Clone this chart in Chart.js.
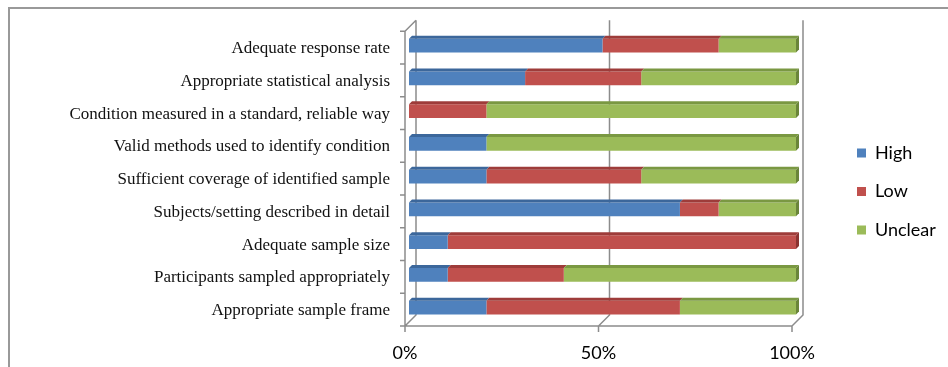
<!DOCTYPE html>
<html>
<head>
<meta charset="utf-8">
<script src="https://cdn.jsdelivr.net/npm/chart.js@4.4.1/dist/chart.umd.min.js"></script>
<style>
  html, body { margin: 0; padding: 0; background: #fff; }
  canvas { display: block; }
</style>
</head>
<body>
<canvas id="myChart" width="948" height="367"></canvas>
<script>
// data (percent of studies)
const categories = [
  'Adequate response rate',
  'Appropriate statistical analysis',
  'Condition measured in a standard, reliable way',
  'Valid methods used to identify condition',
  'Sufficient coverage of identified sample',
  'Subjects/setting described in detail',
  'Adequate sample size',
  'Participants sampled appropriately',
  'Appropriate sample frame'
];
const high    = [50, 30,  0, 20, 20, 70, 10, 10, 20];
const low     = [30, 30, 20,  0, 40, 10, 90, 30, 50];
const unclear = [20, 40, 80, 80, 40, 20,  0, 60, 30];
const xTicks  = [0, 50, 100];

const GRID = '#8c8c8c';

// outer frame (top and left edge only, like the scan)
const frame = {
  id: 'frame',
  beforeDraw(chart) {
    const ctx = chart.ctx;
    ctx.save();
    ctx.strokeStyle = '#999';
    ctx.lineWidth = 2;
    ctx.beginPath();
    ctx.moveTo(9, chart.height);
    ctx.lineTo(9, 8);
    ctx.lineTo(chart.width, 8);
    ctx.stroke();
    ctx.restore();
  }
};

// the 3D walls: back wall gridlines, floor and left wall
const walls = {
  id: 'walls',
  beforeDatasetsDraw(chart) {
    const {ctx, chartArea: a} = chart;
    const xs = chart.scales.x;
    const fx = -4, fy = 2, bx = 7, by = -9;
    ctx.save();
    ctx.strokeStyle = GRID;
    ctx.lineWidth = 1.5;
    ctx.beginPath();
    xTicks.forEach(v => {
      const px = xs.getPixelForValue(v);
      ctx.moveTo(px + bx, a.top + by);
      ctx.lineTo(px + bx, a.bottom + by);
      ctx.lineTo(px + fx, a.bottom + fy);
      ctx.lineTo(px + fx, a.bottom + fy + 6);
    });
    // floor front edge
    ctx.moveTo(xs.getPixelForValue(0) + fx, a.bottom + fy);
    ctx.lineTo(xs.getPixelForValue(100) + fx, a.bottom + fy);
    // left wall front edge + top slant
    ctx.moveTo(a.left + fx, a.bottom + fy);
    ctx.lineTo(a.left + fx, a.top + fy);
    ctx.lineTo(a.left + bx, a.top + by);
    // ticks between categories
    const step = (a.bottom - a.top) / categories.length;
    for (let k = 0; k <= categories.length; k++) {
      const y = a.top + k * step + fy;
      ctx.moveTo(a.left + fx - 5, y);
      ctx.lineTo(a.left + fx, y);
    }
    ctx.stroke();
    ctx.restore();
  }
};

// top faces and end caps of the bars
const bars3d = {
  id: 'bars3d',
  afterDatasetsDraw(chart) {
    const ctx = chart.ctx;
    const d = 3;
    ctx.save();
    for (let i = 0; i < categories.length; i++) {
      let lastEl = null, lastDs = null;
      chart.data.datasets.forEach((ds, k) => {
        if (!ds.data[i]) return;
        const el = chart.getDatasetMeta(k).data[i];
        const {x, y, base, height} = el.getProps(['x', 'y', 'base', 'height'], true);
        const t = y - height / 2;
        ctx.fillStyle = ds.topColor;
        ctx.beginPath();
        ctx.moveTo(base, t);
        ctx.lineTo(x, t);
        ctx.lineTo(x + d, t - d);
        ctx.lineTo(base + d, t - d);
        ctx.closePath();
        ctx.fill();
        lastEl = {x, t, b: y + height / 2};
        lastDs = ds;
      });
      if (lastEl) {
        ctx.fillStyle = lastDs.sideColor;
        ctx.beginPath();
        ctx.moveTo(lastEl.x, lastEl.t);
        ctx.lineTo(lastEl.x + d, lastEl.t - d);
        ctx.lineTo(lastEl.x + d, lastEl.b - d);
        ctx.lineTo(lastEl.x, lastEl.b);
        ctx.closePath();
        ctx.fill();
      }
    }
    ctx.restore();
  }
};

// push the legend out to where it sits in the original
const legendPlace = {
  id: 'legendPlace',
  afterLayout(chart) {
    const lg = chart.legend;
    const p = lg.options.labels.padding;
    lg.left = chart.chartArea.right + 61 - p;
    lg.right = chart.width;
    lg.width = lg.right - lg.left;
    lg.top = 21.5;
    lg.bottom = 361.5;
    lg.height = lg.bottom - lg.top;
  }
};

const ctx = document.getElementById('myChart').getContext('2d');
const myChart = new Chart(ctx, {
  type: 'bar',
  data: {
    labels: categories,
    datasets: [
      { label: 'High',    data: high,    backgroundColor: '#4F81BD', topColor: '#3C679B', sideColor: '#34598A' },
      { label: 'Low',     data: low,     backgroundColor: '#C0504D', topColor: '#9E3C3A', sideColor: '#8A3331' },
      { label: 'Unclear', data: unclear, backgroundColor: '#9BBB59', topColor: '#7A9842', sideColor: '#6A853A' }
    ]
  },
  plugins: [frame, walls, bars3d, legendPlace],
  options: {
    indexAxis: 'y',
    responsive: false,
    animation: false,
    layout: { padding: { top: 27, left: 0, right: 92, bottom: 0 } },
    datasets: { bar: { barPercentage: 0.42, categoryPercentage: 1, borderWidth: 0 } },
    scales: {
      x: {
        stacked: true,
        min: 0,
        max: 100,
        afterBuildTicks(scale) { scale.ticks = xTicks.map(v => ({ value: v })); },
        afterFit(scale) { scale.height = 43; },
        grid: { display: false, drawTicks: false },
        border: { display: false },
        ticks: {
          callback: v => v + '%',
          color: '#000',
          padding: 18,
          labelOffset: -4,
          maxRotation: 0,
          font: { family: 'Lato', size: 18 }
        }
      },
      y: {
        stacked: true,
        afterFit(scale) { scale.width = 409; },
        grid: { display: false, drawTicks: false },
        border: { display: false },
        ticks: {
          color: '#111',
          padding: 19,
          labelOffset: 3,
          font: { family: 'Liberation Serif', size: 17 }
        }
      }
    },
    plugins: {
      legend: {
        position: 'right',
        maxWidth: 60,
        labels: {
          boxWidth: 9,
          boxHeight: 9,
          padding: 20.5,
          color: '#000',
          font: { family: 'Lato', size: 18 }
        }
      },
      tooltip: { enabled: false }
    }
  }
});
</script>
</body>
</html>
